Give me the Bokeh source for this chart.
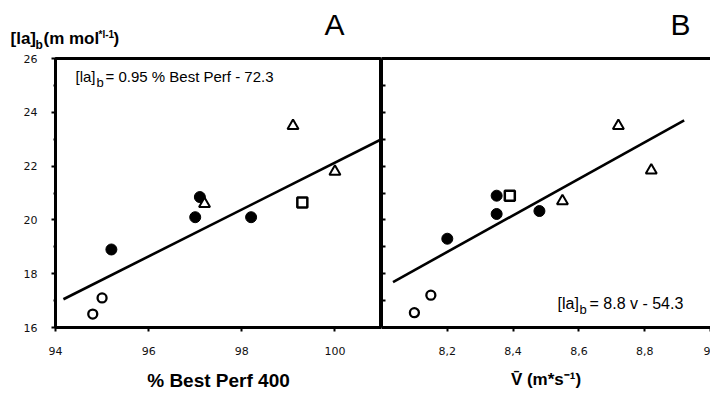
from bokeh.plotting import figure
from bokeh.models import Range1d, FixedTicker, Label, LinearAxis
from bokeh.layouts import row, column
from bokeh.embed import file_html
from bokeh.resources import INLINE

# ---------------- data ----------------
# Panel A: % Best Perf 400 vs [la]b
a_open_x = [94.8, 95.0]
a_open_y = [16.5, 17.1]
a_fill_x = [95.2, 97.0, 97.1, 98.2]
a_fill_y = [18.9, 20.1, 20.85, 20.1]
a_tri_x = [97.2, 99.1, 100.0]
a_tri_y = [20.6, 23.5, 21.8]
a_sq_x = [99.3]
a_sq_y = [20.65]
a_fit_x = [94.17, 101.0]
a_fit_y = [17.05, 23.0]

# Panel B: mean velocity vs [la]b
b_open_x = [8.10, 8.15]
b_open_y = [16.55, 17.2]
b_fill_x = [8.20, 8.35, 8.35, 8.48]
b_fill_y = [19.3, 20.9, 20.22, 20.33]
b_tri_x = [8.55, 8.72, 8.82]
b_tri_y = [20.7, 23.5, 21.84]
b_sq_x = [8.39]
b_sq_y = [20.9]
b_fit_x = [8.035, 8.92]
b_fit_y = [17.69, 23.7]

y_major = [16, 18, 20, 22, 24, 26]
y_minor = [17, 19, 21, 23, 25]
y_all = [16, 17, 18, 19, 20, 21, 22, 23, 24, 25, 26]
a_xticks = [94, 96, 98, 100]
b_xticks = [8.2, 8.4, 8.6, 8.8, 9.0]
b_xlabels = ["8,2", "8,4", "8,6", "8,8", "9"]

TICK_FONT = "DejaVu Sans"
FONT = "Liberation Sans"
INK = "#000000"


def style_common(p):
    p.grid.visible = False
    p.background_fill_color = "white"
    p.border_fill_color = "white"


def add_points(p, ox, oy, fx, fy, tx, ty, sx, sy, lx, ly):
    p.line(lx, ly, line_color=INK, line_width=2.6)
    p.scatter(fx, fy, marker="circle", size=11, fill_color=INK, line_color=INK)
    p.scatter(ox, oy, marker="circle", size=9, fill_color="white",
              line_color=INK, line_width=2.3)
    p.scatter(tx, ty, marker="triangle", size=11, fill_color="white",
              line_color=INK, line_width=2.0)
    p.scatter(sx, sy, marker="square", size=10, fill_color="white",
              line_color=INK, line_width=2.5)


def lab(p, x, y, text, size, style="normal", align="left", font=FONT):
    # y is the desired baseline (screen units, from frame bottom); the svg
    # backend centres the text on y, so lift it by about a third of the size
    p.add_layout(Label(x=x, y=y + round(0.35 * size), x_units="screen",
                       y_units="screen", text=text,
                       text_font=font, text_font_size=f"{size}px",
                       text_font_style=style, text_color=INK,
                       text_align=align, text_baseline="alphabetic"))


def style_tick_labels(ax, standoff):
    ax.major_label_standoff = standoff
    ax.major_label_text_font = TICK_FONT
    ax.major_label_text_font_size = "11px"
    ax.major_label_text_color = "#111111"


# ---------------- header (titles outside the plot frames) ----------------
head = figure(width=710, height=52, x_range=Range1d(0, 710), y_range=Range1d(0, 52),
              output_backend="svg", toolbar_location=None,
              x_axis_location=None, y_axis_location=None, min_border=0)
style_common(head)
head.outline_line_color = None

lab(head, 10, 8, "[la]", 17, "bold")
lab(head, 35, 4, "b", 12, "bold")
lab(head, 43, 8, "(m mol", 17, "bold")
lab(head, 98, 14, "*l-1", 10, "bold")
lab(head, 113, 8, ")", 17, "bold")
lab(head, 334, 18, "A", 30, align="center")
lab(head, 680, 18, "B", 30, align="center")

# ---------------- panel A ----------------
pA = figure(width=381, height=341, x_range=Range1d(94, 101), y_range=Range1d(16, 26),
            output_backend="svg", toolbar_location=None,
            min_border_left=55, min_border_right=0, min_border_top=6,
            min_border_bottom=64)
style_common(pA)
pA.outline_line_color = INK
pA.outline_line_width = 3
pA.outline_line_alpha = 1

xa = pA.xaxis[0]
xa.ticker = FixedTicker(ticks=a_xticks, minor_ticks=[])
xa.axis_line_width = 3
xa.major_tick_out = 4
xa.major_tick_in = 0
xa.major_tick_line_width = 2
xa.minor_tick_out = 0
style_tick_labels(xa, 15)
xa.axis_label = "% Best Perf 400"
xa.axis_label_text_font = FONT
xa.axis_label_text_font_size = "19px"
xa.axis_label_text_font_style = "bold"
xa.axis_label_text_color = INK
xa.axis_label_standoff = 12

ya = pA.yaxis[0]
ya.ticker = FixedTicker(ticks=y_major, minor_ticks=y_minor)
ya.axis_line_width = 3
ya.major_tick_out = 4
ya.major_tick_in = 0
ya.major_tick_line_width = 2
ya.minor_tick_out = 2
ya.minor_tick_in = 0
ya.minor_tick_line_width = 2
style_tick_labels(ya, 14)

add_points(pA, a_open_x, a_open_y, a_fill_x, a_fill_y, a_tri_x, a_tri_y,
           a_sq_x, a_sq_y, a_fit_x, a_fit_y)

lab(pA, 20, 246, "[la]", 15)
lab(pA, 41, 240, "b", 13)
lab(pA, 50, 246, "= 0.95 % Best Perf - 72.3", 15)

# ---------------- panel B ----------------
pB = figure(width=329, height=341, x_range=Range1d(8.0, 9.0), y_range=Range1d(16, 26),
            output_backend="svg", toolbar_location=None,
            min_border_left=0, min_border_right=0, min_border_top=6,
            min_border_bottom=64)
style_common(pB)
pB.outline_line_color = None

xb = pB.xaxis[0]
xb.ticker = FixedTicker(ticks=b_xticks, minor_ticks=[])
xb.major_label_overrides = {t: s for t, s in zip(b_xticks, b_xlabels)}
xb.axis_line_width = 3
xb.major_tick_out = 4
xb.major_tick_in = 0
xb.major_tick_line_width = 2
xb.minor_tick_out = 0
style_tick_labels(xb, 15)
xb.axis_label = "V\u0304 (m*s\u207b\u00b9)"
xb.axis_label_text_font = FONT
xb.axis_label_text_font_size = "17px"
xb.axis_label_text_font_style = "bold"
xb.axis_label_text_color = INK
xb.axis_label_standoff = 12

yb = pB.yaxis[0]
yb.ticker = FixedTicker(ticks=y_all, minor_ticks=[])
yb.axis_line_width = 3
yb.major_tick_out = 0
yb.major_tick_in = 4
yb.major_tick_line_width = 2
yb.minor_tick_out = 0
yb.minor_tick_in = 0
yb.major_label_standoff = 0
yb.major_label_text_font_size = "0px"
yb.major_label_text_color = None

top_b = LinearAxis(ticker=FixedTicker(ticks=[], minor_ticks=[]),
                   axis_line_width=3, major_tick_out=0, major_tick_in=0,
                   minor_tick_out=0, minor_tick_in=0,
                   major_label_text_font_size="0px", major_label_text_color=None,
                   major_label_standoff=0)
pB.add_layout(top_b, "above")

add_points(pB, b_open_x, b_open_y, b_fill_x, b_fill_y, b_tri_x, b_tri_y,
           b_sq_x, b_sq_y, b_fit_x, b_fit_y)

lab(pB, 176, 18, "[la]", 16)
lab(pB, 198, 13, "b", 13)
lab(pB, 208, 18, "= 8.8 v - 54.3", 16)

layout = column(head, row(pA, pB))
open("out.html", "w").write(file_html(layout, INLINE))
